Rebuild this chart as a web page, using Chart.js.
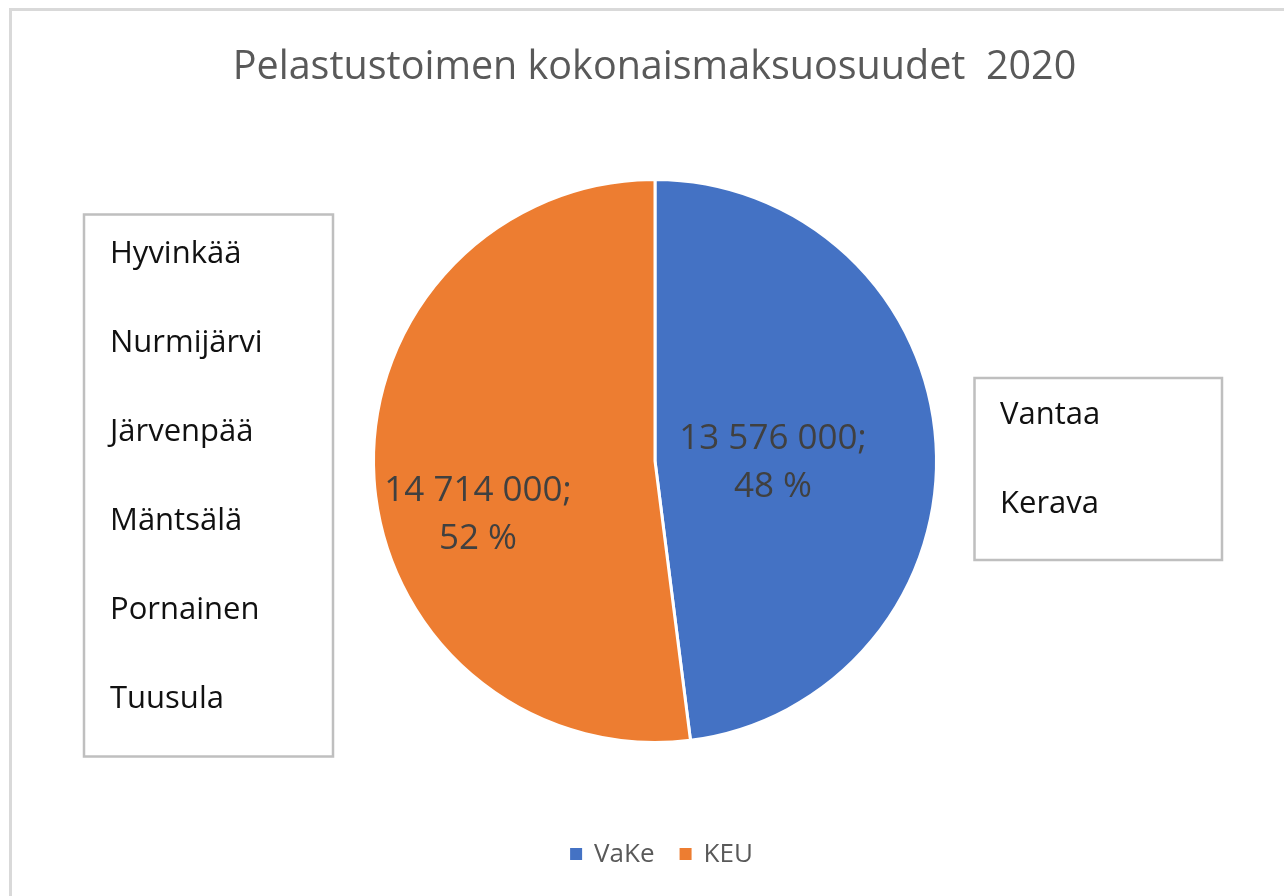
<!DOCTYPE html>
<html><head><meta charset="utf-8">
<script src="https://cdn.jsdelivr.net/npm/chart.js@4.4.1/dist/chart.umd.min.js"></script>
<style>html,body{margin:0;padding:0;background:#fff;overflow:hidden}#wrap{position:relative;width:1284px;height:896px}canvas{display:block}</style>
</head><body><div id="wrap"><canvas id="c" width="1284" height="896"></canvas></div>
<script>
// ---- data ----
const chartTitle = 'Pelastustoimen kokonaismaksuosuudet  2020';
const categories = ['VaKe', 'KEU'];
const values = [13576000, 14714000];
const colors = ['#4472C4', '#ED7D31'];
const leftBoxNames = ['Hyvinkää', 'Nurmijärvi', 'Järvenpää', 'Mäntsälä', 'Pornainen', 'Tuusula'];
const rightBoxNames = ['Vantaa', 'Kerava'];

// ---- styling / placement ----
const FONT = '"Open Sans", "Noto Sans", sans-serif';
const labelPlacement = [{ radial: 0.42, dy: 7 }, { radial: 0.63, dy: 40 }];

function fmt(v) { return String(v).replace(/\B(?=(\d{3})+(?!\d))/g, ' '); }

const decor = {
  id: 'decor',
  afterDatasetsDraw(chart) {
    const ctx = chart.ctx;
    const meta = chart.getDatasetMeta(0);
    const total = values.reduce((a, b) => a + b, 0);
    ctx.save();
    ctx.fillStyle = '#404040';
    ctx.font = '35px ' + FONT;
    ctx.textAlign = 'center';
    ctx.textBaseline = 'alphabetic';
    meta.data.forEach((arc, i) => {
      const p = arc.getProps(['x', 'y', 'startAngle', 'endAngle', 'outerRadius'], true);
      const mid = (p.startAngle + p.endAngle) / 2;
      const r = p.outerRadius * labelPlacement[i].radial;
      const cx = p.x + r * Math.cos(mid);
      const cy = p.y + r * Math.sin(mid) + labelPlacement[i].dy;
      const pct = Math.round(values[i] / total * 100);
      ctx.fillText(fmt(values[i]) + ';', cx, cy - 24 + 12.5);
      ctx.fillText(pct + ' %', cx, cy + 24 + 12.5);
    });
    ctx.restore();
  },
  afterDraw(chart) {
    const ctx = chart.ctx;
    ctx.save();
    // outer chart border
    ctx.strokeStyle = '#d9d9d9';
    ctx.lineWidth = 3;
    ctx.strokeRect(10.5, 9.5, 1400, 1000);
    // title
    ctx.fillStyle = '#595959';
    ctx.font = '39.5px ' + FONT;
    ctx.textAlign = 'center';
    ctx.textBaseline = 'alphabetic';
    ctx.fillText(chartTitle, 654.5, 79);
    // text boxes
    ctx.strokeStyle = '#bfbfbf';
    ctx.lineWidth = 2.5;
    ctx.strokeRect(84, 214.5, 249, 542);
    ctx.strokeRect(974.5, 378, 247.5, 182);
    ctx.fillStyle = '#111111';
    ctx.font = '31px ' + FONT;
    ctx.textAlign = 'left';
    leftBoxNames.forEach((n, i) => ctx.fillText(n, 110, 263 + i * 89));
    rightBoxNames.forEach((n, i) => ctx.fillText(n, 1000, 424 + i * 89));
    // legend
    ctx.font = '26px ' + FONT;
    const box = 12, gapText = 12, gapItem = 25;
    const widths = categories.map(c => ctx.measureText(c).width);
    let totalW = 0;
    widths.forEach((w, i) => { totalW += box + gapText + w + (i < widths.length - 1 ? gapItem : 0); });
    let x = 661.5 - totalW / 2;
    categories.forEach((c, i) => {
      ctx.fillStyle = colors[i];
      ctx.fillRect(x, 848, box, box);
      ctx.fillStyle = '#595959';
      ctx.fillText(c, x + box + gapText, 862);
      x += box + gapText + widths[i] + gapItem;
    });
    ctx.restore();
  }
};

function build() {
  new Chart(document.getElementById('c'), {
    type: 'pie',
    data: {
      labels: categories,
      datasets: [{
        data: values,
        backgroundColor: colors,
        borderColor: '#ffffff',
        borderWidth: 3,
        hoverOffset: 0
      }]
    },
    options: {
      responsive: false,
      devicePixelRatio: 1,
      animation: false,
      radius: 281.5,
      layout: { padding: { left: 375, right: 349, top: 181, bottom: 155 } },
      plugins: { legend: { display: false }, tooltip: { enabled: false }, title: { display: false } }
    },
    plugins: [decor]
  });
}
if (document.fonts && document.fonts.load) {
  Promise.all([document.fonts.load('35px "Open Sans"')]).then(build, build);
} else build();
</script>
</body></html>
